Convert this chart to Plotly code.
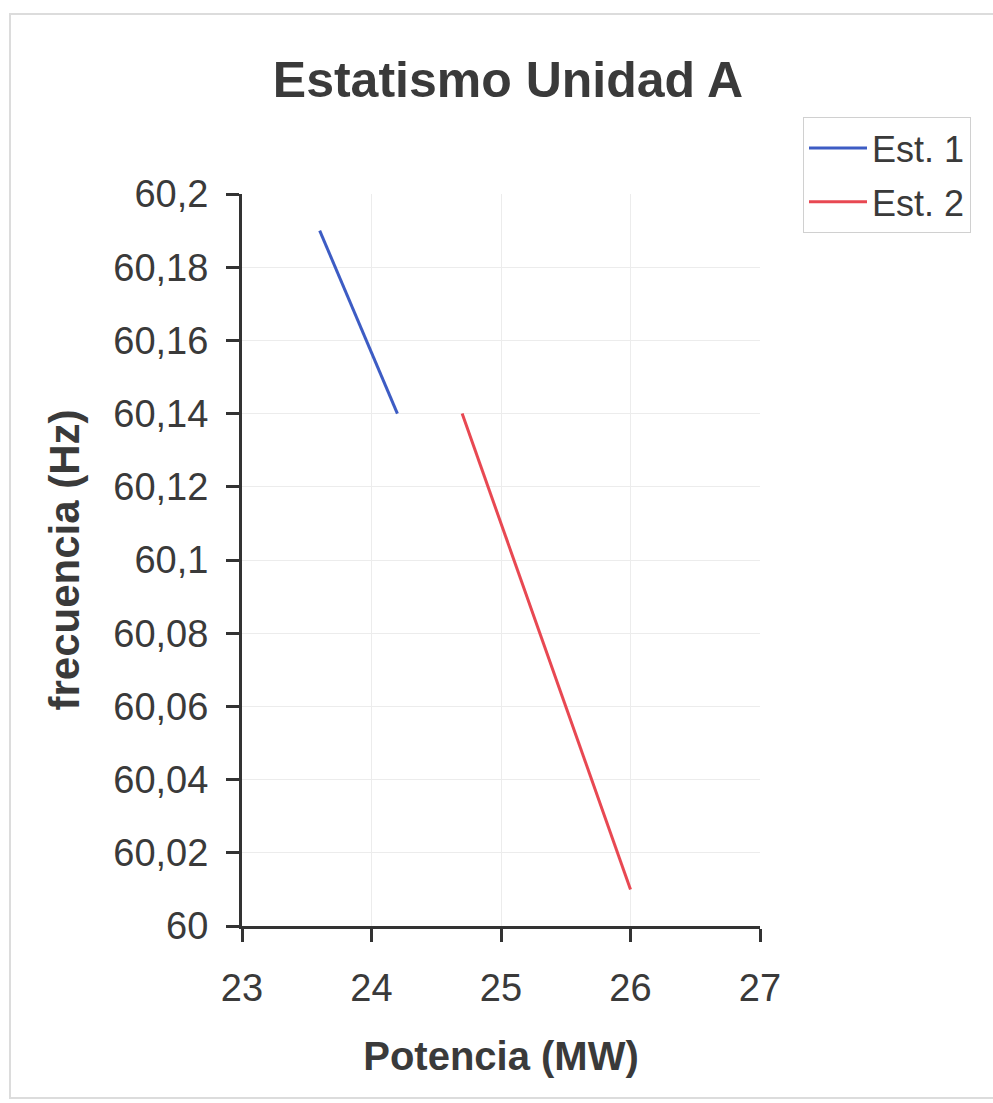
import plotly.graph_objects as go

# Droop characteristics (power in MW, frequency in Hz)
est1_potencia = [23.6, 24.2]
est1_frecuencia = [60.19, 60.14]
est2_potencia = [24.7, 26.0]
est2_frecuencia = [60.14, 60.01]

y_tick_vals = [60.0, 60.02, 60.04, 60.06, 60.08, 60.1, 60.12, 60.14, 60.16, 60.18, 60.2]
y_tick_text = ["60", "60,02", "60,04", "60,06", "60,08", "60,1", "60,12", "60,14", "60,16", "60,18", "60,2"]
x_tick_vals = [23, 24, 25, 26, 27]
x_tick_text = ["23", "24", "25", "26", "27"]

FONT = "Liberation Sans, Arial, sans-serif"
AXIS_COLOR = "#333333"
TEXT_COLOR = "#3a3a3a"

fig = go.Figure()
fig.add_trace(go.Scatter(x=est1_potencia, y=est1_frecuencia, mode="lines", name="Est. 1",
                         legendgroup="e1", line=dict(color="#3d5cc4", width=3)))
fig.add_trace(go.Scatter(x=est2_potencia, y=est2_frecuencia, mode="lines", name="Est. 2",
                         legendgroup="e2", line=dict(color="#e84852", width=3)))

W, H = 993, 1103
L, R, T, B = 242, 233, 194, 177
pw, ph = W - L - R, H - T - B

def px_x(x):
    return (x - L) / pw

def px_y(y):
    return (H - B - y) / ph

# light frame around the whole chart
fig.add_shape(type="rect", xref="paper", yref="paper",
              x0=px_x(10), x1=px_x(1020), y0=px_y(1098), y1=px_y(14),
              line=dict(color="#dcdcdc", width=2), fillcolor="rgba(0,0,0,0)", layer="below")

fig.update_layout(
    width=W, height=H,
    margin=dict(l=L, r=R, t=T, b=B, pad=0),
    paper_bgcolor="white", plot_bgcolor="white",
    font=dict(family=FONT, color=TEXT_COLOR, size=38),
    title=dict(text="<b>Estatismo Unidad A</b>", x=px_x(507), xanchor="center",
               y=1 - 79 / H, yanchor="middle", font=dict(size=50, color=TEXT_COLOR)),
    legend=dict(x=px_x(803), xanchor="left", y=px_y(117), yanchor="top",
                bordercolor="#d0d0d0", borderwidth=1, bgcolor="white",
                font=dict(size=36, color=TEXT_COLOR), itemwidth=58,
                traceorder="grouped", tracegroupgap=4),
    showlegend=True,
)

fig.update_xaxes(
    range=[23, 27], tickvals=x_tick_vals, ticktext=x_tick_text,
    showline=True, linecolor=AXIS_COLOR, linewidth=3,
    ticks="outside", ticklen=13, tickwidth=3, tickcolor=AXIS_COLOR,
    ticklabelstandoff=13,
    showgrid=True, gridcolor="#ececec", gridwidth=1, zeroline=False,
    tickfont=dict(size=38, color=TEXT_COLOR),
    title=dict(text="<b>Potencia (MW)</b>", font=dict(size=40, color=TEXT_COLOR), standoff=35),
)
fig.update_yaxes(
    range=[60.0, 60.2], tickvals=y_tick_vals, ticktext=y_tick_text,
    showline=True, linecolor=AXIS_COLOR, linewidth=3,
    ticks="outside", ticklen=13, tickwidth=3, tickcolor=AXIS_COLOR,
    ticklabelstandoff=10,
    showgrid=True, gridcolor="#ececec", gridwidth=1, zeroline=False,
    tickfont=dict(size=38, color=TEXT_COLOR),
    title=dict(text="<b>frecuencia (Hz)</b>", font=dict(size=42, color=TEXT_COLOR), standoff=21),
)

fig.write_html("out.html")
